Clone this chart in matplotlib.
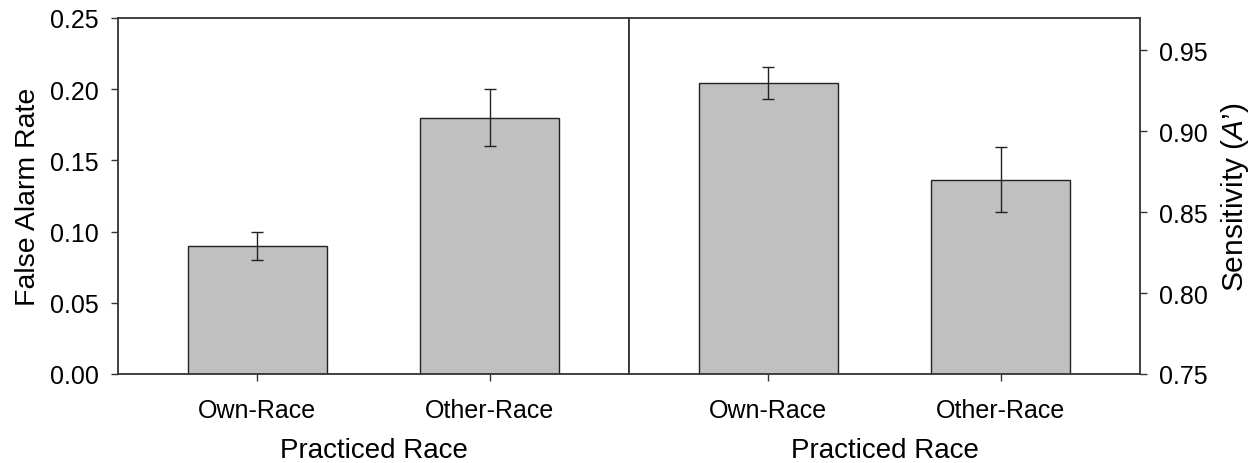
import matplotlib
matplotlib.use("Agg")
import matplotlib.pyplot as plt

plt.rcParams["font.family"] = ["Liberation Sans", "DejaVu Sans"]
plt.rcParams["mathtext.fontset"] = "custom"
plt.rcParams["mathtext.rm"] = "Liberation Sans"
plt.rcParams["mathtext.it"] = "Liberation Sans:italic"

categories = ["Own-Race", "Other-Race"]
false_alarm = [0.09, 0.18]
false_alarm_err = [0.01, 0.02]
sensitivity = [0.93, 0.87]
sensitivity_err = [0.01, 0.02]

W, H = 1260, 464
fig = plt.figure(figsize=(W / 100, H / 100), dpi=100)

x0, x1, xr = 118, 629, 1140
y_top, y_bot = 19, 375
ax1 = fig.add_axes([x0 / W, (H - y_bot) / H, (x1 - x0) / W, (y_bot - y_top) / H])
ax2 = fig.add_axes([x1 / W, (H - y_bot) / H, (xr - x1) / W, (y_bot - y_top) / H])

pos = [1, 2]
bar_kw = dict(width=0.6, color="#c0c0c0", edgecolor="#222222", linewidth=1.0, zorder=2)
err_kw = dict(fmt="none", ecolor="#222222", elinewidth=1.0, capsize=4.5, capthick=1.0, zorder=3)

ax1.bar(pos, false_alarm, **bar_kw)
ax1.errorbar(pos, false_alarm, yerr=false_alarm_err, **err_kw)
ax1.set_ylim(0, 0.25)
ax1.set_yticks([0, 0.05, 0.10, 0.15, 0.20, 0.25])
ax1.set_yticklabels(["0.00", "0.05", "0.10", "0.15", "0.20", "0.25"])
ax1.set_ylabel("False Alarm Rate", fontsize=20.5, labelpad=6)

ax2.bar(pos, sensitivity, **bar_kw)
ax2.errorbar(pos, sensitivity, yerr=sensitivity_err, **err_kw)
ax2.set_ylim(0.75, 0.97)
ax2.set_yticks([0.75, 0.80, 0.85, 0.90, 0.95])
ax2.set_yticklabels(["0.75", "0.80", "0.85", "0.90", "0.95"])
ax2.yaxis.tick_right()
ax2.yaxis.set_label_position("right")
ax2.set_ylabel("Sensitivity ($\\mathit{A}$\u2019)", fontsize=21.5, labelpad=8)

for ax in (ax1, ax2):
    ax.set_xlim(0.4, 2.6)
    ax.set_xticks(pos)
    ax.set_xticklabels(categories)
    ax.set_xlabel("Practiced Race", fontsize=20, labelpad=11)
    ax.tick_params(direction="out", length=5, width=1.0, color="#333333",
                   labelsize=18, pad=9)
    ax.tick_params(axis="x", pad=12)
    for s in ax.spines.values():
        s.set_color("#333333")
        s.set_linewidth(1.3)

fig.savefig("out.png", dpi=100)
